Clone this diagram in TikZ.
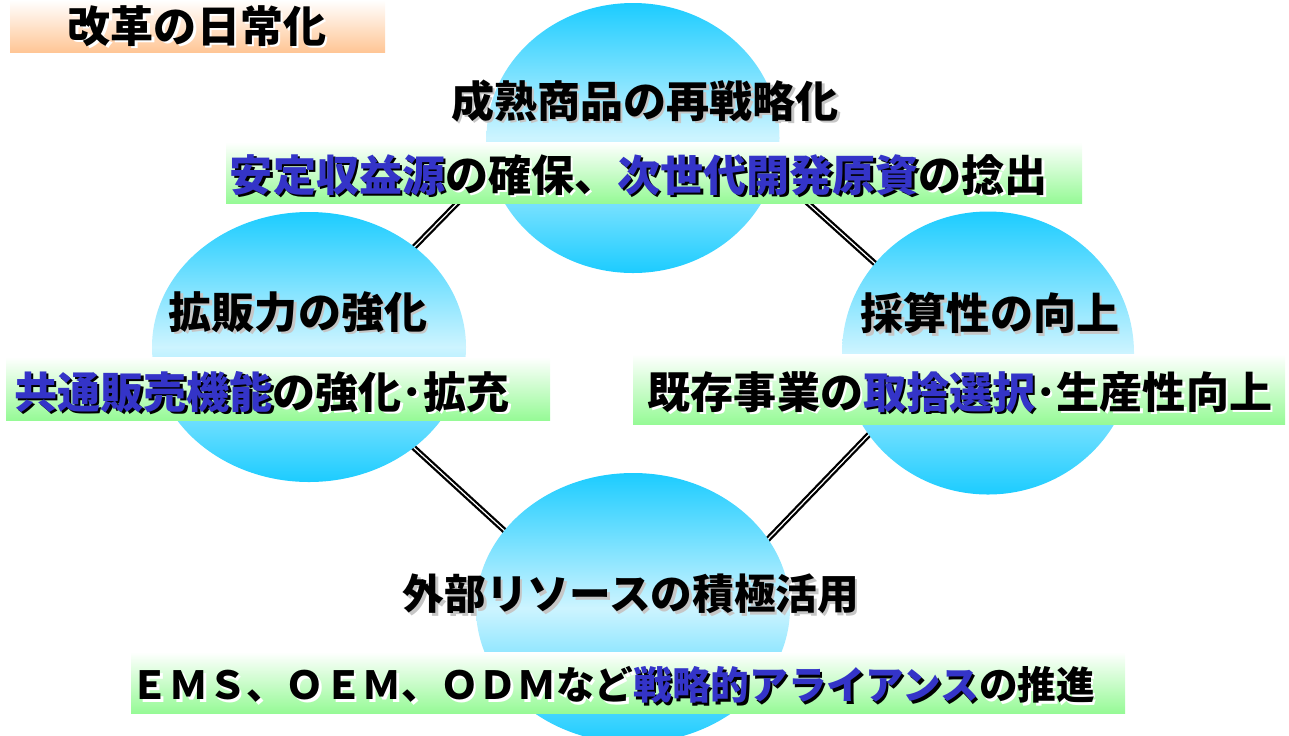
\documentclass[tikz,border=0pt]{standalone}
\usepackage{fontspec}
\newfontfamily\jp{Noto Sans CJK JP}
\usetikzlibrary{shapes.geometric}

\definecolor{hubcyan}{RGB}{28,204,255}
\definecolor{hubpale}{RGB}{205,244,255}
\definecolor{bandgreen}{RGB}{150,250,150}
\definecolor{titlepeach}{RGB}{255,198,150}
\definecolor{hiblue}{RGB}{52,52,200}

% blue words; black in the shadow copy
\newif\ifshade
\newcommand\hi[1]{\ifshade\textcolor{black}{#1}\else\textcolor{hiblue}{#1}\fi}
% text with a drop shadow: [extra style] shadow colour, name, position, text
\newcommand\shtext[5][]{%
  \node[caption,#1,text=#2,xshift=0.5mm,yshift=-0.5mm] at (#4) {\shadetrue #5};
  \node[caption,#1] (#3) at (#4) {#5};}

\tikzset{
  caption/.style={font=\jp\bfseries\fontsize{24.5pt}{29pt}\selectfont, inner sep=0pt},
  small caption/.style={font=\jp\bfseries\fontsize{22pt}{26pt}\selectfont},
  hub/.style={ellipse, draw=none, inner sep=0pt, top color=hubcyan, bottom color=hubcyan, middle color=hubpale},
  band/.style={top color=white, bottom color=bandgreen},
  link/.style={double=white, double distance=0.7pt, line width=1.3pt},
}

\begin{document}
\begin{tikzpicture}[x=0.2mm, y=-0.2mm]
\useasboundingbox (0,0) rectangle (1289,735);
\clip (0,0) rectangle (1289,735);

% end points of the four links (hidden under hubs and bands)
\coordinate (tl1) at (477,183);
\coordinate (tl2) at (380,282);
\coordinate (tr1) at (790,187);
\coordinate (tr2) at (900,286);
\coordinate (lb1) at (400,435);
\coordinate (lb2) at (530,554);
\coordinate (rb1) at (880,423);
\coordinate (rb2) at (745,563);

% the links
\draw[link] (tl1) -- (tl2);
\draw[link] (tr1) -- (tr2);
\draw[link] (lb1) -- (lb2);
\draw[link] (rb1) -- (rb2);

% the four hubs
\node[hub, minimum width=58.6mm, minimum height=54mm] (hubtop) at (633,138) {};
\node[hub, minimum width=62.8mm, minimum height=54mm] (hubleft) at (309,347) {};
\node[hub, minimum width=58.4mm, minimum height=56.6mm] (hubright) at (988,353) {};
\node[hub, minimum width=62.8mm, minimum height=54mm] (hubbottom) at (633,608) {};

% title and bands
\shade[top color=white, bottom color=titlepeach] (10,0) rectangle (385,52);
\shade[band] (226,142) rectangle (1082,203);
\shade[band] (6,357) rectangle (550,420);
\shade[band] (633,354) rectangle (1285,424);
\shade[band] (131,652) rectangle (1125,713);

% texts
\shtext{white}{title}{197,26}{改革の日常化}
\shtext{gray!45}{toplabel}{645,101}{成熟商品の再戦略化}
\shtext{white}{topnote}{639,175}{\hi{安定収益源}の確保、\hi{次世代開発原資}の捻出}
\shtext{gray!45}{leftlabel}{298,312}{拡販力の強化}
\shtext{white}{leftnote}{262,392}{\hi{共通販売機能}の強化･拡充}
\shtext{gray!45}{rightlabel}{990,313}{採算性の向上}
\shtext{white}{rightnote}{960,392}{既存事業の\hi{取捨選択}･生産性向上}
\shtext[font=\jp\bfseries\fontsize{23.7pt}{28pt}\selectfont]{gray!45}{bottomlabel}{631,594}{外部リソースの積極活用}
\shtext[small caption]{white}{bottomnote}{613,685}{ＥＭＳ、ＯＥＭ、ＯＤＭなど\hi{戦略的アライアンス}の推進}
\end{tikzpicture}
\end{document}
